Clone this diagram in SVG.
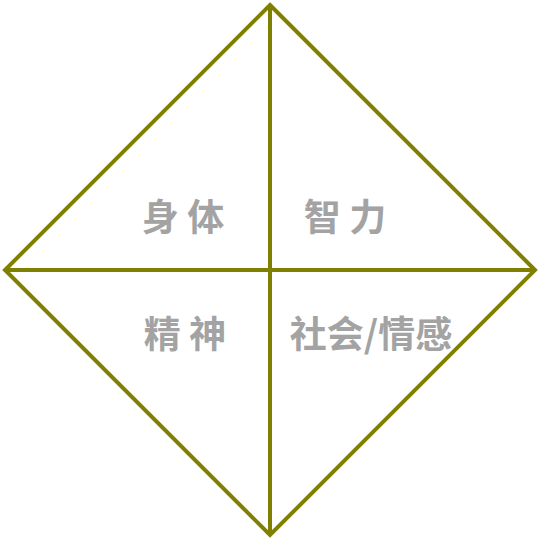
<svg xmlns="http://www.w3.org/2000/svg" width="540" height="540" viewBox="0 0 540 540">
<style>
.lbl{font-family:"Noto Sans CJK SC","Liberation Sans",sans-serif;font-size:37px;font-weight:bold;fill:#a3a3a3;text-anchor:middle}
.ln{stroke:#808000;stroke-width:4;fill:none}
</style>
<rect width="540" height="540" fill="#ffffff"/>
<g id="labels">
<g id="n-body"><text class="lbl" x="183" y="231">身 体</text></g>
<g id="n-mind"><text class="lbl" x="345" y="231">智 力</text></g>
<g id="n-spirit"><text class="lbl" x="185" y="348">精 神</text></g>
<g id="n-social"><text class="lbl" x="371" y="348">社会/情感</text></g>
</g>
<g id="connectors">
<polygon class="ln" points="270,5 535,270 270,535 5,270"/>
<line class="ln" x1="270" y1="5" x2="270" y2="535"/>
<line class="ln" x1="5" y1="270" x2="535" y2="270"/>
</g>
</svg>
